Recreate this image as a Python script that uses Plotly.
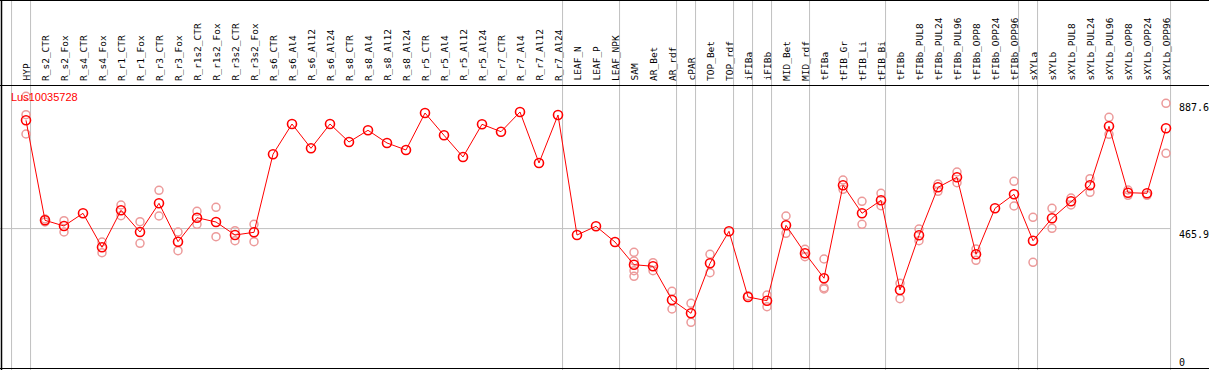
import plotly.graph_objects as go

categories = ["HYP", "R_s2_CTR", "R_s2_Fox", "R_s4_CTR", "R_s4_Fox", "R_r1_CTR", "R_r1_Fox",
              "R_r3_CTR", "R_r3_Fox", "R_r1s2_CTR", "R_r1s2_Fox", "R_r3s2_CTR", "R_r3s2_Fox",
              "R_s6_CTR", "R_s6_Al4", "R_s6_Al12", "R_s6_Al24", "R_s8_CTR", "R_s8_Al4", "R_s8_Al12",
              "R_s8_Al24", "R_r5_CTR", "R_r5_Al4", "R_r5_Al12", "R_r5_Al24", "R_r7_CTR", "R_r7_Al4",
              "R_r7_Al12", "R_r7_Al24", "LEAF_N", "LEAF_P", "LEAF_NPK", "SAM", "AR_Bet", "AR_rdf",
              "cPAR", "TOP_Bet", "TOP_rdf", "iFIBa", "iFIBb", "MID_Bet", "MID_rdf", "tFIBa",
              "tFIB_Gr", "tFIB_Li", "tFIB_Bi", "tFIBb", "tFIBb_PUL8", "tFIBb_PUL24", "tFIBb_PUL96",
              "tFIBb_OPP8", "tFIBb_OPP24", "tFIBb_OPP96", "sXYLa", "sXYLb", "sXYLb_PUL8",
              "sXYLb_PUL24", "sXYLb_PUL96", "sXYLb_OPP8", "sXYLb_OPP24", "sXYLb_OPP96"]

mean_values = [827.8, 493.6, 474.6, 517.0, 403.4, 527.0, 454.5, 550.4, 422.1, 502.3, 487.9,
               444.5, 453.5, 714.5, 815.4, 734.2, 815.4, 755.3, 794.4, 752.0, 728.6, 852.2,
               777.7, 705.2, 814.4, 789.7, 855.6, 685.1, 845.5, 444.5, 473.6, 421.1, 345.2,
               339.9, 227.3, 182.8, 349.9, 456.9, 237.3, 224.9, 476.9, 383.7, 300.1, 610.6,
               517.0, 560.5, 260.7, 443.5, 603.9, 637.3, 380.0, 533.7, 580.5, 425.4, 500.3,
               557.1, 610.6, 807.8, 585.9, 583.8, 801.1]

N = None
rep_a = [908.0, 498.0, 492.3, N, 421.1, 544.7, 488.9, 593.9, 454.5, 523.7, 537.1, 458.9, 480.2,
         N, N, N, N, N, N, N, N, N, N, N, N, N, N, N, N, N, N, N,
         386.7, 351.9, 256.3, 216.2, 380.0, N, 241.6, 244.0, 508.0, 396.7, 364.3, 628.3,
         557.1, 583.8, 283.1, 464.5, 614.9, 655.0, 397.7, N, 624.0, 503.6, 533.7, 568.1,
         632.6, 837.8, 594.9, 577.2, 884.6]
rep_b = [846.5, 488.0, 454.5, N, 385.3, 509.0, 416.7, 508.0, 392.0, 480.2, 438.8, 425.4, 422.1,
         N, N, N, N, N, N, N, N, N, N, N, N, N, N, N, N, N, N, N,
         325.2, 325.2, 197.2, 152.7, 318.5, N, N, 204.9, 450.2, 372.0, 268.4, 597.2,
         480.2, 542.4, 231.6, 425.4, 590.5, 619.3, 359.9, N, 541.4, 353.2, 466.9, 544.7,
         587.2, 781.0, 577.2, N, 717.5]
rep_c = [782.0, N, N, N, N, N, N, N, N, N, N, N, N,
         N, N, N, N, N, N, N, N, N, N, N, N, N, N, N, N, N, N, N,
         306.5, N, N, N, N, N, N, N, N, N, 264.0, N,
         N, N, N, N, N, N, N, N, N, N, N, N,
         N, N, N, N, N]
rep_d = [N] * 32 + [357.6] + [N] * 28

group_ends = [-1, 0, 28, 31, 34, 35, 37, 38, 39, 41, 45, 52, 53, 60]
y_ticks = [887.6, 465.9, 0]
title_text = "Lus10035728"

W, H = 1209, 370
PX_X = 19.0           # pixels per category
X0_PX = 26.0          # pixel of first category
Y0_PX = 368.0         # pixel of value 0
UNIT_PER_PX = 3.342

x_range = [-X0_PX / PX_X, (W - X0_PX) / PX_X]
y_range = [-(H - Y0_PX) * UNIT_PER_PX, Y0_PX * UNIT_PER_PX]

def py(p):  # paper y from pixel-from-top
    return 1 - p / H

xs = list(range(len(categories)))
fig = go.Figure()

rep_color = "#ec9a9a"
for reps in (rep_a, rep_b, rep_c, rep_d):
    fig.add_trace(go.Scatter(x=xs, y=reps, mode="markers",
                             marker=dict(symbol="circle-open", size=8, color=rep_color,
                                         line=dict(width=1.5, color=rep_color)),
                             showlegend=False, hoverinfo="skip"))

fig.add_trace(go.Scatter(x=xs, y=mean_values, mode="lines+markers",
                         line=dict(color="#ff0000", width=1),
                         marker=dict(symbol="circle-open", size=9, color="#ff0000",
                                     line=dict(width=1.6, color="#ff0000")),
                         showlegend=False))

shapes = []
grid = "#c0c0c0"
for g in group_ends:
    gx = g + 0.24
    shapes.append(dict(type="line", xref="x", yref="paper", x0=gx, x1=gx, y0=0, y1=1,
                       line=dict(color=grid, width=1), layer="below"))
# horizontal grid at middle tick
shapes.append(dict(type="line", xref="paper", yref="y", x0=0, x1=(60 + 0.24 - x_range[0]) / (x_range[1] - x_range[0]),
                   y0=y_ticks[1], y1=y_ticks[1], line=dict(color=grid, width=1), layer="below"))
# black frame lines
shapes.append(dict(type="line", xref="paper", yref="paper", x0=0, x1=1, y0=py(0.5), y1=py(0.5),
                   line=dict(color="black", width=1)))
shapes.append(dict(type="line", xref="paper", yref="paper", x0=0, x1=1, y0=py(85.5), y1=py(85.5),
                   line=dict(color="black", width=1)))
shapes.append(dict(type="line", xref="paper", yref="paper", x0=0, x1=1, y0=py(368.5), y1=py(368.5),
                   line=dict(color="black", width=1)))
shapes.append(dict(type="line", xref="paper", yref="paper", x0=1.5 / W, x1=1.5 / W, y0=0, y1=1,
                   line=dict(color="black", width=1.5)))

annotations = []
for i, c in enumerate(categories):
    annotations.append(dict(x=i, y=py(83), xref="x", yref="paper", text=c, showarrow=False,
                            textangle=-90, xanchor="center", yanchor="bottom",
                            font=dict(family="DejaVu Sans Mono", size=9.5, color="black")))
annotations.append(dict(x=9 / W, y=py(97), xref="paper", yref="paper", text=title_text,
                        showarrow=False, xanchor="left", yanchor="middle",
                        font=dict(family="Liberation Sans", size=11, color="#ff0000")))
for v in y_ticks:
    if v == 0:
        annotations.append(dict(x=1177 / W, y=py(355), xref="paper", yref="paper",
                                text="0", showarrow=False, xanchor="left", yanchor="top",
                                font=dict(family="DejaVu Sans Mono", size=10, color="black")))
    else:
        annotations.append(dict(x=1177 / W, y=v, xref="paper", yref="y", yshift=2,
                                text="%g" % v, showarrow=False, xanchor="left", yanchor="top",
                                font=dict(family="DejaVu Sans Mono", size=10, color="black")))

fig.update_layout(width=W, height=H, margin=dict(l=0, r=0, t=0, b=0),
                  paper_bgcolor="white", plot_bgcolor="white",
                  xaxis=dict(range=x_range, visible=False, fixedrange=True),
                  yaxis=dict(range=y_range, visible=False, fixedrange=True),
                  shapes=shapes, annotations=annotations, showlegend=False)

fig.write_html("out.html", config={"displayModeBar": False},
               post_script="document.body.style.margin='0px';document.body.style.overflow='hidden';")
